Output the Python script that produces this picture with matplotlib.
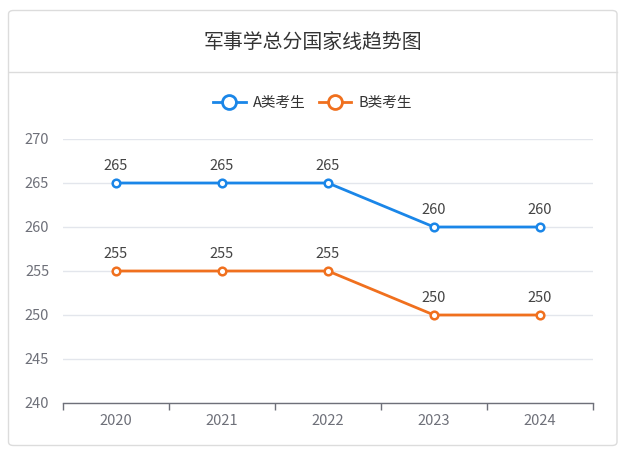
import matplotlib
matplotlib.use("Agg")
import matplotlib.pyplot as plt
from matplotlib.patches import FancyBboxPatch
from matplotlib.lines import Line2D

plt.rcParams['font.family'] = ['Noto Sans CJK SC', 'DejaVu Sans']

title = "军事学总分国家线趋势图"
years = ["2020", "2021", "2022", "2023", "2024"]
series_names = ["A类考生", "B类考生"]
a_values = [265, 265, 265, 260, 260]
b_values = [255, 255, 255, 250, 250]
y_ticks = [240, 245, 250, 255, 260, 265, 270]
colors = ["#1a86e8", "#f0701e"]

W, H = 625, 453
fig = plt.figure(figsize=(W / 100, H / 100), dpi=100)

# card background
card = FancyBboxPatch((8.5 / W, 7.5 / H), (617 - 8.5) / W, (442.5 - 7.5) / H,
                      boxstyle="round,pad=0,rounding_size=0.008",
                      transform=fig.transFigure, facecolor="white",
                      edgecolor="#dcdcdc", linewidth=1, zorder=-5)
fig.patches.append(card)
fig.add_artist(Line2D([8.5 / W, 617 / W], [1 - 71.5 / H, 1 - 71.5 / H],
                      transform=fig.transFigure, color="#dcdcdc", linewidth=1, zorder=-4))
fig.text(0.5, 1 - 42 / H, title, ha="center", va="center", fontsize=14.3, color="#333333")

ax = fig.add_axes([63 / W, 1 - 403 / H, (593 - 63) / W, (403 - 139) / H])
ax.set_zorder(2)
x = list(range(len(years)))
for vals, name, c in zip([a_values, b_values], series_names, colors):
    ax.plot(x, vals, color=c, linewidth=2, marker="o", markersize=5.5,
            markerfacecolor="white", markeredgecolor=c, markeredgewidth=1.8,
            label=name, zorder=3, clip_on=False)
    for xi, v in zip(x, vals):
        ax.annotate(str(v), (xi, v), xytext=(0, 7.5), textcoords="offset points",
                    ha="center", va="bottom", fontsize=10.5, color="#444444")

ax.set_xlim(-0.5, len(years) - 0.5)
ax.set_ylim(240, 270)
ax.set_yticks(y_ticks)
ax.set_yticklabels([str(t) for t in y_ticks])
ax.set_xticks([i - 0.5 for i in range(len(years) + 1)])
ax.set_xticklabels([])
ax.set_xticks(x, minor=True)
ax.set_xticklabels(years, minor=True)
ax.tick_params(axis="x", which="major", length=5, color="#6e7079", width=1, direction="out")
ax.tick_params(axis="x", which="minor", length=0, labelsize=10.5, labelcolor="#6e7079", pad=8)
ax.tick_params(axis="y", length=0, labelsize=10.5, labelcolor="#6e7079", pad=10)
ax.grid(axis="y", color="#e3e6ec", linewidth=1)
ax.set_axisbelow(True)
for s in ["top", "right", "left"]:
    ax.spines[s].set_visible(False)
ax.spines["bottom"].set_color("#6e7079")
ax.spines["bottom"].set_linewidth(1)
ax.set_facecolor("none")

handles = [Line2D([0], [0], color=c, linewidth=2, marker="o", markersize=10,
                  markerfacecolor="white", markeredgecolor=c, markeredgewidth=2)
           for c in colors]
fig.legend(handles, series_names, loc="center", bbox_to_anchor=(0.5, 1 - 103 / H),
           ncol=2, frameon=False, fontsize=10.5, handlelength=2.2, handletextpad=0.5,
           columnspacing=0.9, labelcolor="#333333")

fig.savefig("out.png", dpi=100)
